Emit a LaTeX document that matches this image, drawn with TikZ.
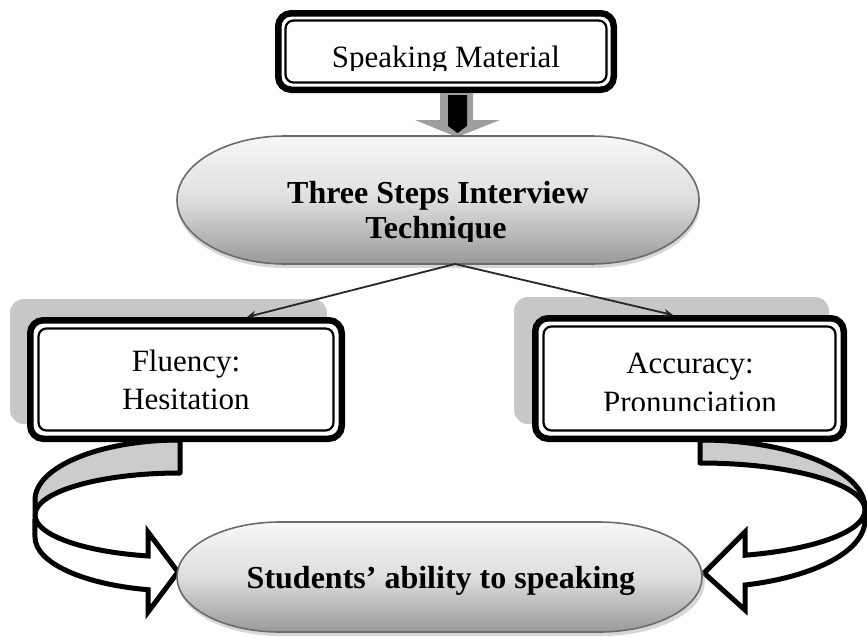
\documentclass[tikz,border=0pt]{standalone}
\usepackage{fontspec}
\setmainfont{Liberation Serif}
\usetikzlibrary{arrows.meta}
\begin{document}
\begin{tikzpicture}[x=1pt,y=-1pt,
  txt/.style={font=\fontsize{31}{36}\selectfont, inner sep=0pt, anchor=base},
  btxt/.style={font=\fontsize{32}{37}\selectfont\bfseries, inner sep=0pt, anchor=base},
  frameout/.style={draw=black, line width=6.5pt, rounded corners=13pt, fill=white},
  framein/.style={draw=black, line width=2.2pt, rounded corners=8pt},
  boxshadow/.style={fill=black!22, rounded corners=14pt},
  pill/.style={draw=black!58, line width=1.6pt, top color=black!3, bottom color=black!40, middle color=black!13},
  pillshadow/.style={fill=black!35, opacity=0.45},
  bandtop/.style={draw=black, line width=5pt, line join=round, fill=black!20},
  bandlow/.style={draw=black, line width=5pt, line join=miter, fill=white},
  blockarrow/.style={fill=black!38},
  link/.style={draw=black!85, line width=1.8pt, -{Stealth[length=9pt,width=8pt]}}
]
\useasboundingbox (0,0) rectangle (867,637);

% ---------- top box: Speaking Material ----------
\draw[frameout] (278.25,13.25) rectangle (613.75,89.75);
\draw[framein] (285.5,20.5) rectangle (606.5,82.5);
\begin{scope}
  \clip (280,20) rectangle (610,70);
  \node[txt] (sm) at (446,67) {Speaking Material};
\end{scope}

% ---------- block arrow down ----------
\fill[blockarrow] (440,93) -- (473,93) -- (473,120) -- (500,120) -- (457,137)
  -- (415,120) -- (440,120) -- cycle;
\fill[black] (448,95) -- (467,95) -- (467,126) -- (457.5,133) -- (448,126) -- cycle;

% ---------- pill: Three Steps Interview Technique ----------
\fill[pillshadow] (285,140) -- (592,140)
  arc[start angle=-90, end angle=90, x radius=108, y radius=64]
  -- (285,268) arc[start angle=90, end angle=270, x radius=108, y radius=64] -- cycle;
\path[pill] (285,136) -- (591,136)
  arc[start angle=-90, end angle=90, x radius=108, y radius=64]
  -- (285,264) arc[start angle=90, end angle=270, x radius=108, y radius=64] -- cycle;
\begin{scope}
  \clip (180,140) rectangle (700,241);
  \node[btxt] (tsi) at (438,203) {Three Steps Interview};
  \node[btxt] (tsj) at (436,238) {Technique};
\end{scope}
\coordinate (fork) at (455,264);

% ---------- shadows of the side boxes ----------
\fill[boxshadow] (10,299) rectangle (327,424);
\fill[boxshadow] (514,297) rectangle (829,424);

% ---------- curved ribbon arrows ----------
\draw[bandtop] (180,440) arc[start angle=-90, end angle=-180, x radius=145, y radius=60]
  -- (35,515) arc[start angle=180, end angle=270, x radius=145, y radius=42] -- cycle;
\draw[bandlow] (35,515) arc[start angle=180, end angle=102.75, x radius=145, y radius=42]
  -- (148,532) -- (178,572) -- (148,612) -- (148,589.7)
  arc[start angle=102.75, end angle=180, x radius=145, y radius=54] -- cycle;

\draw[bandtop] (700,440) arc[start angle=-90, end angle=0, x radius=165, y radius=68]
  -- (865,510) arc[start angle=0, end angle=-90, x radius=165, y radius=47] -- cycle;
\draw[bandlow] (865,510) arc[start angle=0, end angle=74.17, x radius=165, y radius=47]
  -- (745,532) -- (704,573) -- (745,610) -- (745,585)
  arc[start angle=74.17, end angle=0, x radius=165, y radius=67.5] -- cycle;

% ---------- left box: Fluency ----------
\draw[frameout] (30.25,320.25) rectangle (341.75,438.75);
\draw[framein] (38.5,328.5) rectangle (333.5,430.5);
\node[txt] (flu) at (186,371) {Fluency:};
\node[txt] (hes) at (186,409) {Hesitation};
\coordinate (flutop) at (247,317);

% ---------- right box: Accuracy ----------
\draw[frameout] (535.25,318.25) rectangle (843.75,438.75);
\draw[framein] (543.5,326.5) rectangle (835.5,430.5);
\node[txt] (acc) at (690,373) {Accuracy:};
\begin{scope}
  \clip (540,330) rectangle (840,410.5);
  \node[txt] (pro) at (690,412) {Pronunciation};
\end{scope}
\coordinate (acctop) at (673,315);

% ---------- pill: Students' ability ----------
\fill[pillshadow] (281,526) -- (602,526)
  arc[start angle=-90, end angle=90, x radius=103, y radius=55]
  -- (281,636) arc[start angle=90, end angle=270, x radius=103, y radius=55] -- cycle;
\path[pill] (280,522) -- (599,522)
  arc[start angle=-90, end angle=90, x radius=103, y radius=55]
  -- (280,632) arc[start angle=90, end angle=270, x radius=103, y radius=55] -- cycle;
\node[btxt] (sab) at (441,588) {Students’ ability to speaking};

% ---------- connectors ----------
\draw[link] (fork) -- (flutop);
\draw[link] (fork) -- (acctop);
\end{tikzpicture}
\end{document}
